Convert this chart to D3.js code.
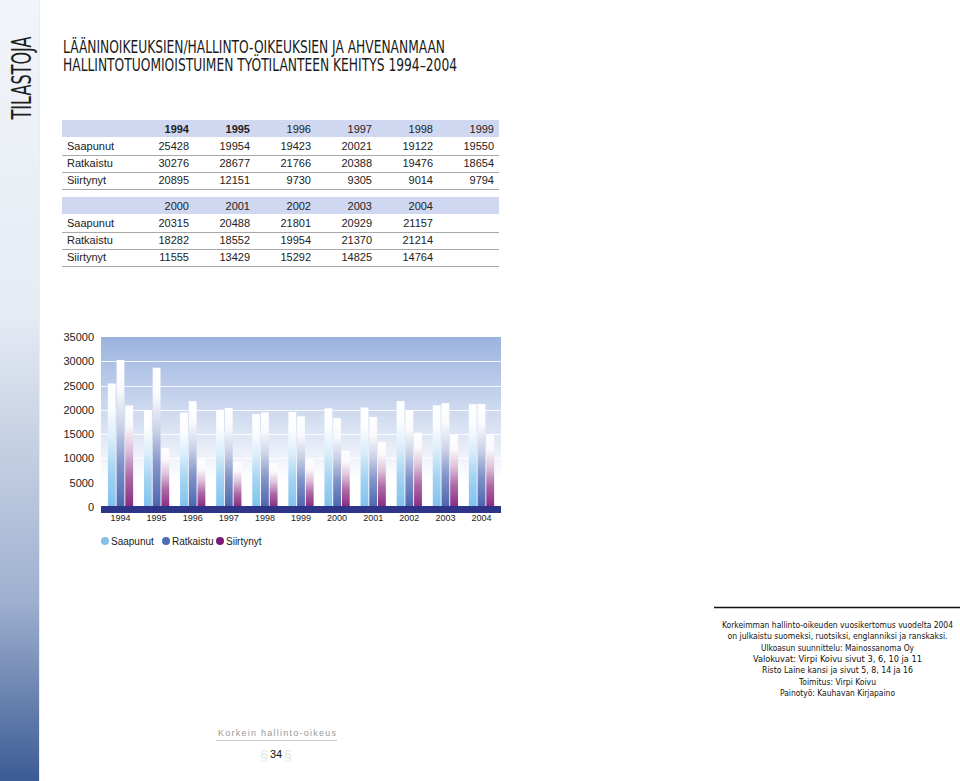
<!DOCTYPE html>
<html><head><meta charset="utf-8">
<script src="https://cdn.jsdelivr.net/npm/d3@7"></script>
<style>
html,body{margin:0;padding:0;background:#fff;}
svg{display:block;}
</style></head>
<body>
<svg id="c" width="960" height="781"></svg>
<script>
// ---- data ----
const years = ["1994","1995","1996","1997","1998","1999","2000","2001","2002","2003","2004"];
const seriesNames = ["Saapunut","Ratkaistu","Siirtynyt"];
const saapunut  = [25428,19954,19423,20021,19122,19550,20315,20488,21801,20929,21157];
const ratkaistu = [30276,28677,21766,20388,19476,18654,18282,18552,19954,21370,21214];
const siirtynyt = [20895,12151,9730,9305,9014,9794,11555,13429,15292,14825,14764];
const yTicks = [0,5000,10000,15000,20000,25000,30000,35000];
const boldYears = ["1994","1995"];
const titleLines = ["LÄÄNINOIKEUKSIEN/HALLINTO-OIKEUKSIEN JA AHVENANMAAN","HALLINTOTUOMIOISTUIMEN TYÖTILANTEEN KEHITYS 1994–2004"];
const footerLines = [
 "Korkeimman hallinto-oikeuden vuosikertomus vuodelta 2004",
 "on julkaistu suomeksi, ruotsiksi, englanniksi ja ranskaksi.",
 "Ulkoasun suunnittelu: Mainossanoma Oy",
 "Valokuvat:  Virpi Koivu sivut 3, 6, 10 ja 11",
 "Risto Laine kansi ja sivut 5, 8, 14 ja 16",
 "Toimitus:  Virpi Koivu",
 "Painotyö: Kauhavan Kirjapaino"];
const footerWidths = [231,220,153,169,151,77,115];

const seriesValues = [saapunut, ratkaistu, siirtynyt];
const seriesColors = ["#7fc2ee","#4d66b0","#8a2a80"];
const legendColors = ["#86c0e6","#4a6db4","#7a1b78"];

const svg = d3.select("#c");
const defs = svg.append("defs");
const narrow = "'Liberation Sans Narrow','DejaVu Sans Condensed',sans-serif";
const font="'Liberation Sans',Arial,sans-serif";

// sidebar
const sg = defs.append("linearGradient").attr("id","side").attr("x1",0).attr("y1",0).attr("x2",0).attr("y2",1);
[[0,"#f1f4f9"],[0.4,"#e6ebf4"],[0.77,"#9eb0cf"],[1,"#3c5a94"]].forEach(s=>sg.append("stop").attr("offset",s[0]).attr("stop-color",s[1]));
svg.append("rect").attr("x",0).attr("y",0).attr("width",39).attr("height",781).attr("fill","url(#side)");
svg.append("line").attr("x1",39.5).attr("x2",39.5).attr("y1",0).attr("y2",781).attr("stroke","#e8ecf3").attr("stroke-width",1);
svg.append("text").attr("transform","translate(31,78) rotate(-90)")
  .attr("text-anchor","middle").attr("font-family",narrow)
  .attr("font-size",26).attr("fill","#1e1e1e").attr("textLength",83).attr("lengthAdjust","spacingAndGlyphs")
  .text("TILASTOJA");

// title
const tBase=[53,70.5], tLen=[382,394];
titleLines.forEach((t,i)=>{
  svg.append("text").attr("x",63).attr("y",tBase[i])
   .attr("font-family",narrow)
   .attr("font-size",18.5).attr("fill","#1a1a1a")
   .attr("textLength",tLen[i]).attr("lengthAdjust","spacingAndGlyphs").text(t);
});

// table
const colX = d3.scalePoint().domain(d3.range(6)).range([189,494]);
function table(startIdx, count, top){
  svg.append("rect").attr("x",62).attr("y",top).attr("width",437).attr("height",17).attr("fill","#cfd8f0");
  for(let j=0;j<count;j++){
    const y=years[startIdx+j];
    svg.append("text").attr("x",colX(j)).attr("y",top+12.5).attr("text-anchor","end")
     .attr("font-family",font).attr("font-size",11).attr("fill","#222")
     .attr("font-weight",boldYears.includes(y)?"bold":"normal").text(y);
  }
  seriesNames.forEach((n,r)=>{
    const cy = top+26+r*17;
    svg.append("text").attr("x",67).attr("y",cy+4).attr("font-family",font).attr("font-size",11).attr("fill","#222").text(n);
    for(let j=0;j<count;j++){
      svg.append("text").attr("x",colX(j)).attr("y",cy+4).attr("text-anchor","end")
       .attr("font-family",font).attr("font-size",11).attr("fill","#222").text(seriesValues[r][startIdx+j]);
    }
    svg.append("line").attr("x1",62).attr("x2",499).attr("y1",cy+9.5).attr("y2",cy+9.5).attr("stroke","#a8a8a8").attr("stroke-width",1);
  });
}
table(0,6,120);
table(6,5,197);

// chart
const L=101,R=501,T=337,B=507;
const y = d3.scaleLinear().domain([0,35000]).range([B,T]);
const x0 = d3.scaleBand().domain(years).range([L,R]).paddingInner(0.3).paddingOuter(0.19);
const x1 = d3.scaleBand().domain(seriesNames).range([0,x0.bandwidth()]).paddingInner(0.1);

const bg = defs.append("linearGradient").attr("id","plotbg").attr("x1",0).attr("y1",0).attr("x2",0).attr("y2",1);
[[0,"#9bb3de"],[0.45,"#d0dbf0"],[0.85,"#ffffff"],[1,"#ffffff"]].forEach(s=>bg.append("stop").attr("offset",s[0]).attr("stop-color",s[1]));
svg.append("rect").attr("x",L).attr("y",T).attr("width",R-L).attr("height",B-T).attr("fill","url(#plotbg)");

svg.append("g").selectAll("line").data(yTicks.filter(v=>v>0&&v<35000)).join("line")
  .attr("x1",L).attr("x2",R).attr("y1",d=>Math.round(y(d))+0.5).attr("y2",d=>Math.round(y(d))+0.5)
  .attr("stroke","#ffffff").attr("stroke-opacity",0.85).attr("stroke-width",1.2);

svg.append("g").selectAll("text").data(yTicks).join("text")
  .attr("x",94).attr("y",d=>y(d)+4).attr("text-anchor","end")
  .attr("font-family",font).attr("font-size",11).attr("fill","#222").text(d=>d);

seriesNames.forEach((n,i)=>{
  const g = defs.append("linearGradient").attr("id","bar"+i).attr("x1",0).attr("y1",0).attr("x2",0).attr("y2",1);
  const mix = t=>d3.interpolateRgb("#ffffff",seriesColors[i])(t);
  [[0,0],[0.2,0.03],[0.45,0.3],[0.7,0.7],[1,1]].forEach(s=>g.append("stop").attr("offset",s[0]).attr("stop-color",mix(s[1])));
});

const groups = svg.append("g").selectAll("g").data(years).join("g").attr("transform",d=>`translate(${x0(d)},0)`);
groups.selectAll("rect").data((d,yi)=>seriesNames.map((n,si)=>({n,si,v:seriesValues[si][yi]}))).join("rect")
  .attr("x",d=>x1(d.n)).attr("width",x1.bandwidth())
  .attr("y",d=>y(d.v)).attr("height",d=>B-y(d.v))
  .attr("fill",d=>`url(#bar${d.si})`);

// floor
svg.append("rect").attr("x",L).attr("y",506).attr("width",R-L).attr("height",7).attr("fill","#2e3589");

// x labels
svg.append("g").selectAll("text").data(years).join("text")
  .attr("x",d=>x0(d)+x0.bandwidth()/2).attr("y",521).attr("text-anchor","middle")
  .attr("font-family",font).attr("font-size",9).attr("fill","#222").text(d=>d);

// legend
const legX=[105,166,220];
seriesNames.forEach((n,i)=>{
  svg.append("circle").attr("cx",legX[i]).attr("cy",541).attr("r",4).attr("fill",legendColors[i]);
  svg.append("text").attr("x",legX[i]+6).attr("y",544.5).attr("font-family",font).attr("font-size",10).attr("fill","#222").text(n);
});

// footer right
svg.append("line").attr("x1",714).attr("x2",960).attr("y1",607.5).attr("y2",607.5).attr("stroke","#111").attr("stroke-width",1.6);
footerLines.forEach((t,i)=>{
  svg.append("text").attr("x",837.5).attr("y",628+i*11.3).attr("text-anchor","middle")
   .attr("font-family",narrow).attr("font-size",9.3).attr("fill","#111")
   .attr("textLength",footerWidths[i]).attr("lengthAdjust","spacingAndGlyphs").text(t);
});

// page footer
svg.append("text").attr("x",218).attr("y",736).attr("font-family",font).attr("font-size",9).attr("fill","#999")
  .attr("textLength",118).attr("lengthAdjust","spacing").text("Korkein hallinto-oikeus");
svg.append("line").attr("x1",216).attr("x2",337).attr("y1",740.5).attr("y2",740.5).attr("stroke","#c8c8c8").attr("stroke-width",1);
svg.append("text").attr("x",264).attr("y",761).attr("text-anchor","middle").attr("font-family",font).attr("font-size",15).attr("fill","#e6e6e6").text("§");
svg.append("text").attr("x",288).attr("y",761).attr("text-anchor","middle").attr("font-family",font).attr("font-size",15).attr("fill","#e6e6e6").text("§");
svg.append("text").attr("x",276).attr("y",758).attr("text-anchor","middle").attr("font-family",font).attr("font-size",11).attr("fill","#111").text("34");
</script>
</body></html>
